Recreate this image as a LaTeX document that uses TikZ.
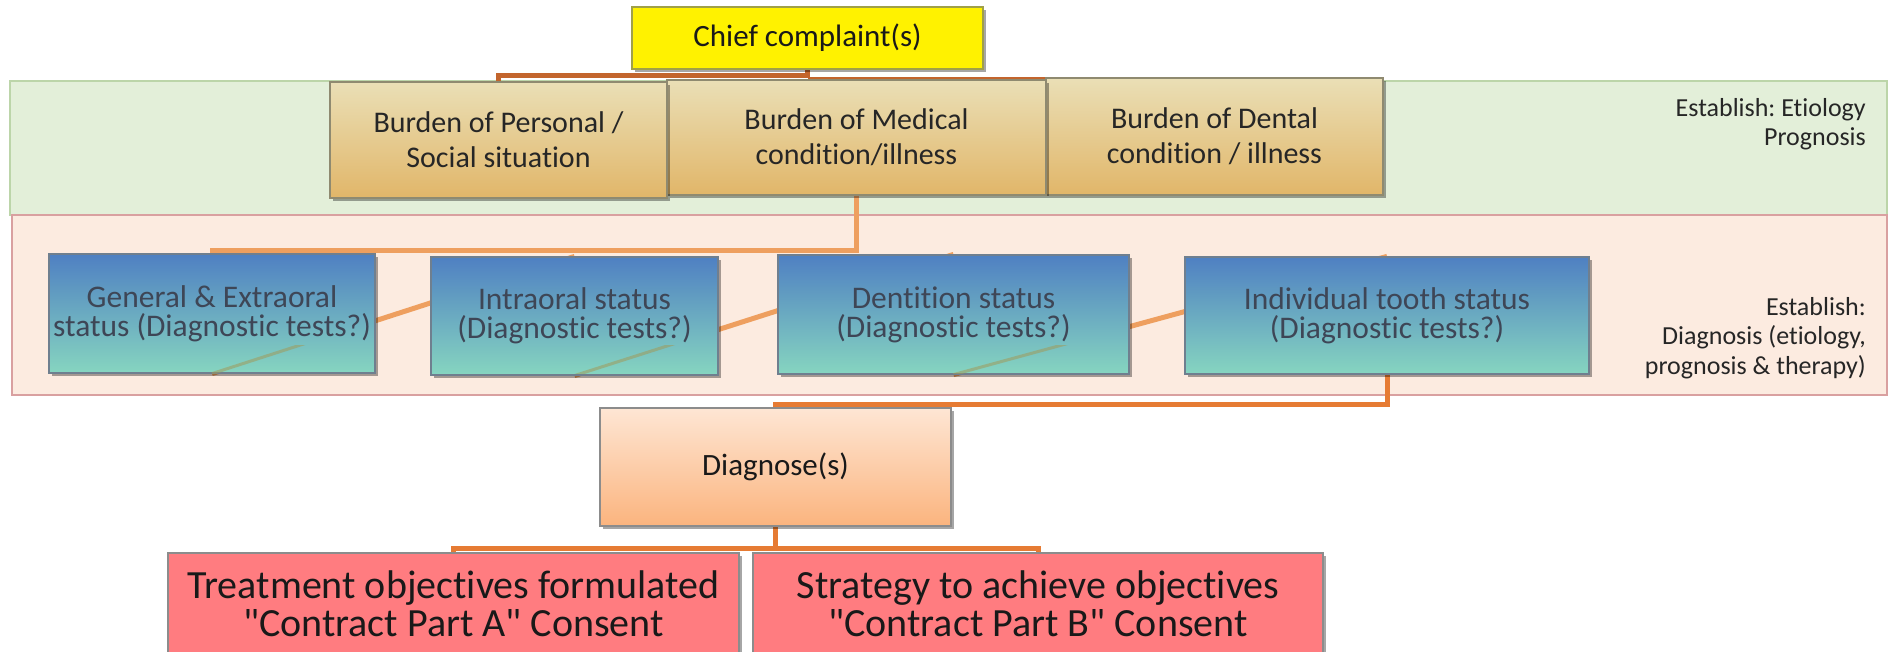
\documentclass[tikz,border=0pt]{standalone}
\usepackage{fontspec}
\setmainfont{Carlito}[Ligatures={TeXOff,CommonOff}]
\usetikzlibrary{shadows}
\frenchspacing
\pgfdeclarelayer{bg}
\pgfdeclarelayer{conn}
\pgfdeclarelayer{top}
\pgfsetlayers{bg,conn,main,top}
\definecolor{greenfill}{HTML}{E3EFD9}
\definecolor{greenline}{HTML}{BCD5A9}
\definecolor{pinkfill}{HTML}{FCEBE0}
\definecolor{pinkline}{HTML}{D9A0A0}
\definecolor{burdentop}{HTML}{EADFB6}
\definecolor{burdenbot}{HTML}{E1B669}
\definecolor{burdenline}{HTML}{8F8A70}
\definecolor{bluetop}{HTML}{4F80C2}
\definecolor{bluemid}{HTML}{5BB2DA}
\definecolor{bluebot}{HTML}{86D5C0}
\definecolor{blueline}{HTML}{6F7F8F}
\definecolor{bluetext}{HTML}{3E4656}
\definecolor{diagtop}{HTML}{FEE6D4}
\definecolor{diagbot}{HTML}{FBB47E}
\definecolor{redfill}{HTML}{FF7C80}
\definecolor{greyline}{HTML}{8C8C8C}
\definecolor{chiefline}{HTML}{A0A048}
\definecolor{connbrown}{HTML}{C3652D}
\definecolor{connlight}{HTML}{EE9F5F}
\definecolor{connorange}{HTML}{E67B33}
\definecolor{faintline}{HTML}{A09A5A}
\tikzset{
  sh/.style={drop shadow={shadow xshift=2.5pt,shadow yshift=-3pt,opacity=0.35,fill=black}},
  boxbase/.style={inner sep=0pt, align=center, line width=1.2pt, sh},
  chiefbox/.style={boxbase, draw=chiefline, fill=yellow, text=black!90,
    font=\fontsize{31}{37}\selectfont},
  burden/.style={boxbase, draw=burdenline, top color=burdentop, bottom color=burdenbot,
    text=black!85, font=\fontsize{30}{35}\selectfont},
  bluebox/.style={boxbase, draw=blueline, top color=bluetop, middle color=bluemid,
    bottom color=bluebot, text=bluetext, font=\fontsize{31.5}{29}\selectfont},
  diagbox/.style={boxbase, draw=greyline, top color=diagtop, bottom color=diagbot,
    text=black!90, font=\fontsize{31}{37}\selectfont},
  redbox/.style={boxbase, draw=greyline, fill=redfill, text=black!90,
    font=\fontsize{40}{38}\selectfont},
  estab/.style={inner sep=0pt, align=right, anchor=east, text=black!85,
    font=\fontsize{26}{29.5}\selectfont},
  connA/.style={draw=connbrown, line width=5pt},
  connB/.style={draw=connlight, line width=5pt},
  connC/.style={draw=connorange, line width=5pt},
  faint/.style={draw=faintline, line width=3pt, opacity=0.55},
}
\begin{document}
\begin{tikzpicture}[x=1pt,y=-1pt]
\useasboundingbox (0,0) rectangle (1892,652);
\begin{pgfonlayer}{bg}
\fill[white] (0,0) rectangle (1892,652);
\draw[fill=greenfill, draw=greenline, line width=1.5pt] (10,81) rectangle (1887,215);
\draw[fill=pinkfill, draw=pinkline, line width=1.5pt] (12,215) rectangle (1887,395);
\end{pgfonlayer}

\node[chiefbox, minimum width=351, minimum height=62] (chief) at (807.5,38) {Chief complaint(s)};
\node[burden, minimum width=337, minimum height=117] (dental) at (1214.5,136.5) {Burden of Dental\\condition / illness};
\node[burden, minimum width=379, minimum height=115] (medical) at (856.5,137.5) {Burden of Medical\\condition/illness};
\node[burden, minimum width=337, minimum height=116] (personal) at (498.5,140) {Burden of Personal /\\Social situation};

\node[bluebox, minimum width=326, minimum height=119] (general) at (212,313.5) {General \& Extraoral\\status (Diagnostic tests?)};
\node[bluebox, minimum width=287, minimum height=118] (intraoral) at (574.5,316) {Intraoral status\\(Diagnostic tests?)};
\node[bluebox, minimum width=351, minimum height=119] (dentition) at (953.5,314.5) {Dentition status\\(Diagnostic tests?)};
\node[bluebox, minimum width=404, minimum height=117] (individual) at (1387,315.5) {Individual tooth status\\(Diagnostic tests?)};

\node[diagbox, minimum width=351, minimum height=118] (diagnose) at (775.5,467) {Diagnose(s)};
\node[redbox, minimum width=571, minimum height=102] (redA) at (453.5,604) {Treatment objectives formulated\\"Contract Part A" Consent};
\node[redbox, minimum width=570, minimum height=102] (redB) at (1038,604) {Strategy to achieve objectives\\"Contract Part B" Consent};

\node[estab] (estabA) at (1866,124) {Establish: Etiology\\Prognosis};
\node[estab] (estabB) at (1866,338) {Establish:\\Diagnosis (etiology,\\prognosis \& therapy)};

\begin{pgfonlayer}{conn}
\draw[connA] (chief.south) -- ++(0,6) -| (personal.north);
\draw[connA, line width=2pt] (chief.south) ++(0,8) -| (dental.north);
\draw[connB] (medical.south) -- ++(0,54.5) -| (general.north);
\draw[connB] (general.south) -- (intraoral.north);
\draw[connB] (intraoral.south) -- (dentition.north);
\draw[connB] (dentition.south) -- (individual.north);
\draw[connC] (individual.south) -- ++(0,29.5) -| (diagnose.north);
\draw[connC] (diagnose.south) -- ++(0,22) -| (redA.north);
\draw[connC] (diagnose.south) -- ++(0,22) -| (redB.north);
\end{pgfonlayer}

\begin{pgfonlayer}{top}
\begin{scope}
\clip (0,345) rectangle (1892,373);
\draw[faint] (general.south) -- (intraoral.north);
\draw[faint] (intraoral.south) -- (dentition.north);
\draw[faint] (dentition.south) -- (individual.north);
\end{scope}
\end{pgfonlayer}
\end{tikzpicture}
\end{document}
